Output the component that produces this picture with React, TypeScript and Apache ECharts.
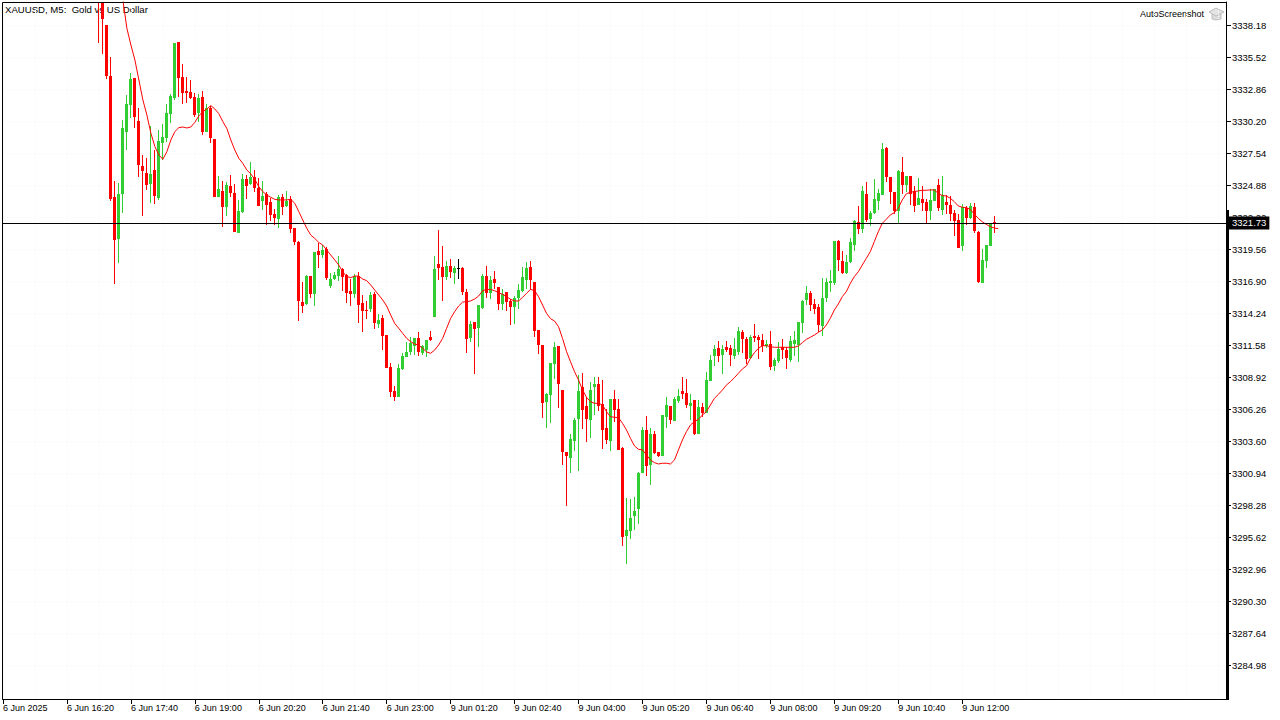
import React, { useEffect, useRef } from "react";
import * as echarts from "echarts";

const symbolTitle = "XAUUSD, M5:  Gold vs US Dollar";
const watermark = "AutoScreenshot";
const lastPrice = 3321.73;
const firstBarIndex = 24;
const firstMaIndex = 29;
const totalSlots = 307;
const xTickStep = 16;
const xTickLabels = ["6 Jun 2025","6 Jun 16:20","6 Jun 17:40","6 Jun 19:00","6 Jun 20:20","6 Jun 21:40","6 Jun 23:00","9 Jun 01:20","9 Jun 02:40","9 Jun 04:00","9 Jun 05:20","9 Jun 06:40","9 Jun 08:00","9 Jun 09:20","9 Jun 10:40","9 Jun 12:00"];
const yTickValues = [3338.18,3335.52,3332.86,3330.20,3327.54,3324.88,3322.22,3319.56,3316.90,3314.24,3311.58,3308.92,3306.26,3303.60,3300.94,3298.28,3295.62,3292.96,3290.30,3287.64,3284.98];

// rows: open, close, low, high
const barsEvening1 = [
[3345.00,3342.00,3336.69,3345.00],[3343.00,3338.71,3335.77,3343.50],[3338.18,3333.94,3333.72,3338.18],[3333.94,3323.72,3323.56,3335.52],
[3323.89,3320.31,3316.65,3325.22],[3320.39,3324.14,3318.40,3325.05],[3324.14,3329.62,3322.56,3330.29],[3329.29,3331.62,3327.79,3332.36],
[3331.53,3333.69,3330.45,3334.19],[3333.78,3330.54,3329.62,3333.78],[3330.20,3326.55,3325.55,3331.28],[3326.47,3326.05,3322.31,3327.38],
[3325.88,3324.89,3324.47,3327.13],[3324.97,3325.80,3323.39,3329.79],[3326.13,3323.97,3323.31,3327.79],[3323.80,3328.54,3323.64,3329.45],
[3328.38,3328.87,3326.96,3329.95],[3328.79,3330.87,3328.46,3331.62],[3330.79,3332.28,3330.01,3332.45],[3332.11,3336.69,3331.95,3336.69],
[3336.77,3333.78,3332.20,3336.77],[3333.86,3332.53,3331.62,3334.94],[3332.70,3332.53,3331.70,3333.86],[3332.61,3332.11,3332.03,3333.61],
[3332.20,3330.70,3330.54,3332.53],[3330.87,3332.11,3330.12,3332.45],[3332.20,3329.29,3329.04,3332.70],[3329.29,3331.28,3329.29,3331.62],
[3331.28,3328.79,3328.38,3331.45],[3328.71,3323.89,3323.89,3328.71],[3323.89,3324.55,3323.89,3325.63],[3324.39,3323.06,3321.39,3325.22],
[3323.06,3324.89,3322.31,3325.14],[3324.80,3324.22,3323.89,3325.72],[3324.22,3320.97,3320.97,3324.97],[3320.89,3322.72,3320.89,3323.64],
[3322.64,3325.38,3322.56,3325.80],[3325.38,3324.80,3323.72,3325.72],[3324.97,3325.55,3324.89,3326.79],[3325.55,3324.63,3324.30,3326.13],
[3324.63,3323.14,3323.14,3325.46],
];
const barsEvening2 = [
[3323.56,3323.97,3322.81,3325.22],[3324.14,3323.22,3321.55,3324.30],[3323.47,3322.39,3321.89,3323.80],[3322.47,3322.14,3321.55,3322.89],
[3322.06,3323.89,3321.31,3324.05],[3323.89,3323.06,3322.39,3324.14],[3323.14,3323.56,3323.06,3324.39],[3323.72,3321.22,3320.89,3323.97],
[3321.31,3320.14,3319.89,3321.31],[3320.14,3315.24,3313.57,3320.22],[3315.15,3314.82,3314.24,3316.82],[3314.99,3317.31,3314.90,3317.40],
[3317.31,3315.82,3315.49,3317.31],[3315.82,3319.31,3314.82,3319.31],[3319.39,3319.06,3317.98,3320.06],[3319.06,3319.47,3318.81,3319.89],
[3319.56,3317.15,3316.98,3319.72],[3316.48,3317.06,3316.31,3317.56],[3317.06,3317.40,3316.98,3317.65],[3317.31,3317.90,3316.90,3318.98],
[3317.90,3317.23,3316.07,3317.98],[3317.40,3315.90,3315.07,3317.48],[3316.07,3315.82,3314.82,3317.06],[3315.82,3317.31,3315.49,3317.48],
[3317.31,3314.90,3313.41,3317.65],[3315.07,3314.41,3312.66,3315.74],[3314.49,3314.41,3313.74,3315.24],[3314.57,3315.74,3314.32,3315.99],
[3315.82,3313.41,3312.91,3315.99],[3313.33,3313.66,3313.00,3314.16],[3313.82,3312.33,3311.16,3314.07],[3312.41,3309.67,3309.67,3312.41],
[3309.75,3307.67,3307.26,3310.08],[3307.76,3307.26,3306.93,3308.17],[3307.26,3309.67,3307.26,3310.00],[3309.59,3310.67,3309.50,3310.92],
[3310.58,3311.00,3310.58,3311.83],[3311.00,3311.75,3310.75,3312.25],[3311.50,3312.16,3310.75,3312.16],[3312.16,3311.00,3310.67,3312.66],
[3310.92,3311.50,3310.75,3311.58],[3311.16,3312.00,3310.58,3312.00],[3312.25,3312.00,3311.91,3312.74],
];
const barsAsia1 = [
[3313.91,3317.90,3313.91,3318.98],[3318.31,3317.98,3316.98,3321.15],[3318.06,3317.23,3315.24,3319.81],[3317.23,3318.15,3316.98,3318.56],
[3318.15,3317.65,3317.15,3318.73],[3317.56,3317.98,3316.65,3318.15],[3317.95,3317.95,3317.06,3318.73],[3317.98,3315.99,3315.74,3318.06],
[3315.99,3312.08,3310.92,3316.23],[3312.16,3313.33,3311.83,3313.57],[3313.49,3312.91,3309.17,3313.49],[3313.00,3314.90,3311.41,3314.90],
[3314.65,3317.31,3314.57,3317.48],[3317.31,3315.90,3315.49,3318.15],[3315.90,3316.98,3315.40,3317.31],[3317.06,3316.73,3316.23,3317.73],
[3316.40,3314.99,3314.49,3316.40],[3314.99,3315.82,3314.49,3316.23],[3315.99,3315.15,3314.41,3315.99],[3315.24,3314.74,3313.24,3315.40],
[3314.74,3315.49,3313.33,3315.65],[3315.49,3316.15,3314.57,3316.65],[3316.07,3317.23,3315.99,3318.06],[3316.98,3317.98,3316.23,3318.48],
[3318.06,3316.98,3316.15,3318.56],[3316.82,3312.74,3312.25,3316.82],[3312.83,3311.58,3310.83,3312.83],[3311.58,3306.76,3305.51,3311.58],
[3306.84,3307.51,3304.68,3307.59],[3307.43,3310.08,3305.10,3310.08],[3310.00,3311.41,3308.75,3311.83],[3311.50,3308.34,3306.34,3311.50],
[3307.84,3302.69,3301.61,3307.84],[3302.69,3302.36,3298.20,3302.69],[3302.20,3303.77,3300.94,3304.18],[3303.60,3305.35,3302.77,3305.51],
[3305.43,3307.76,3301.11,3309.09],[3308.09,3306.18,3304.60,3309.25],[3306.51,3305.43,3303.52,3307.26],[3305.35,3307.84,3303.85,3308.51],
[3308.09,3308.34,3305.76,3308.92],[3308.34,3306.51,3306.10,3308.92],[3306.68,3304.52,3302.94,3308.67],[3304.68,3303.69,3303.35,3306.26],
[3303.60,3307.09,3302.77,3307.09],[3307.09,3306.18,3305.18,3307.84],[3306.26,3302.86,3302.86,3307.09],
];
const barsAsia2 = [
[3303.02,3295.63,3294.88,3303.10],[3295.71,3296.21,3293.38,3298.87],[3296.12,3297.20,3295.46,3298.78],[3297.37,3297.79,3296.21,3298.95],
[3297.95,3300.94,3296.70,3301.03],[3300.94,3304.52,3300.94,3304.77],[3304.52,3301.53,3300.70,3305.68],[3301.61,3304.18,3299.93,3304.68],
[3304.18,3302.60,3302.52,3304.43],[3302.69,3302.36,3302.27,3302.69],[3302.36,3305.76,3302.36,3305.76],[3305.60,3306.59,3304.68,3307.26],
[3306.51,3305.35,3305.01,3306.51],[3305.26,3307.09,3305.26,3307.26],[3306.93,3307.34,3306.76,3307.92],[3307.76,3307.51,3307.09,3308.92],
[3307.59,3306.59,3306.34,3308.75],[3306.51,3306.76,3305.35,3307.51],[3307.01,3304.18,3304.10,3307.01],[3304.18,3306.43,3304.18,3307.01],
[3306.43,3305.93,3305.60,3306.76],[3305.93,3308.67,3305.93,3309.34],[3308.59,3310.33,3308.59,3310.75],[3310.67,3311.25,3309.84,3311.58],
[3311.33,3310.67,3310.17,3311.91],[3310.75,3311.25,3309.17,3311.58],[3311.41,3311.16,3311.00,3311.91],[3311.33,3310.75,3309.84,3311.58],
[3310.67,3311.25,3310.42,3312.16],[3311.00,3312.74,3310.75,3313.08],[3312.66,3312.08,3310.92,3312.83],[3312.08,3310.42,3310.00,3312.25],
[3310.50,3312.25,3310.42,3312.41],[3312.33,3312.16,3311.83,3313.33],[3312.25,3312.00,3310.42,3312.41],[3312.00,3311.50,3311.00,3312.49],
[3311.50,3311.66,3311.33,3312.00],[3311.66,3309.75,3309.50,3312.74],[3309.84,3310.33,3309.42,3310.50],[3310.25,3311.25,3310.08,3311.83],
[3311.41,3311.16,3310.42,3312.08],[3311.16,3310.50,3309.59,3311.41],[3310.33,3311.91,3310.17,3312.33],[3311.66,3312.00,3310.67,3312.74],
];
const barsEurope = [
[3311.58,3313.49,3310.17,3313.49],[3313.41,3315.24,3312.58,3315.32],[3315.32,3315.90,3314.90,3316.48],[3315.90,3314.90,3314.41,3316.07],
[3314.99,3314.57,3314.16,3315.40],[3314.74,3313.24,3312.66,3314.99],[3313.16,3315.49,3312.33,3317.15],[3315.49,3316.82,3315.15,3317.15],
[3316.73,3316.90,3315.99,3317.81],[3316.73,3320.22,3316.57,3320.22],[3320.22,3318.65,3317.73,3320.31],[3318.56,3317.56,3317.48,3319.39],
[3317.56,3318.48,3317.48,3319.06],[3318.48,3320.14,3318.40,3320.47],[3319.89,3321.89,3319.39,3321.97],[3321.81,3321.22,3320.80,3323.14],
[3321.22,3324.39,3320.89,3324.80],[3324.14,3321.97,3321.81,3325.14],[3322.06,3322.56,3321.48,3322.72],[3322.56,3323.72,3322.47,3325.38],
[3323.56,3324.22,3322.81,3324.55],[3324.05,3327.88,3324.05,3328.38],[3327.96,3325.55,3325.14,3328.04],[3325.55,3324.30,3323.31,3325.55],
[3324.30,3322.72,3322.47,3324.30],[3322.72,3326.05,3321.64,3326.13],[3325.97,3324.89,3324.14,3327.21],[3324.89,3325.63,3324.30,3325.63],
[3325.63,3324.14,3323.22,3325.63],[3324.39,3323.14,3322.64,3324.80],[3323.22,3323.80,3323.22,3325.46],[3323.72,3323.39,3322.72,3324.80],
[3323.47,3322.72,3321.72,3323.72],[3322.72,3323.64,3321.97,3324.55],[3323.56,3324.55,3323.56,3324.55],[3324.89,3322.97,3322.72,3325.38],
[3322.81,3324.05,3322.39,3325.63],[3323.47,3323.22,3322.47,3324.05],[3323.22,3322.47,3321.89,3323.97],[3322.56,3321.89,3320.64,3322.81],
[3321.97,3319.64,3319.64,3322.47],[3319.81,3323.06,3319.39,3323.31],[3322.97,3322.14,3321.55,3323.14],[3322.14,3323.14,3322.06,3323.39],
[3323.06,3321.06,3320.89,3323.39],[3320.97,3316.82,3316.73,3321.06],[3316.73,3318.65,3316.73,3319.56],[3318.56,3319.89,3317.98,3319.89],
[3319.81,3321.72,3319.81,3321.72],[3321.81,3321.73,3320.89,3322.31],
];

const maEvening = [3341.90,3340.26,3337.90,3336.52,3335.27,3333.61,3331.95,3330.70,3329.18,3328.07,3327.38,3327.02,3327.65,3328.62,3329.32,3329.65,3329.70,3329.62,3329.70,3330.09,3330.62,3330.98,3331.20,3331.48,3331.20,3330.81,3330.15,3329.59,3328.62,3327.79,3327.10,3326.68,3326.13,3325.80,3325.35,3324.74,3324.33,3324.05,3323.86,3323.69,3323.64,3323.64,3323.64,3323.69,3323.36,3322.67,3321.97,3321.28,3320.72,3320.44,3320.11,3319.89,3319.47,3319.06,3318.65,3318.23,3317.67,3317.26,3317.18,3317.31,3317.31,3317.06,3316.93,3316.57,3316.15,3315.74,3315.32,3314.82,3314.07,3313.38,3312.97,3312.55,3312.13,3311.86,3311.66,3311.58,3311.30,3311.00,3310.89];
const maAsia = [3311.16,3311.58,3312.13,3312.97,3313.80,3314.35,3314.82,3315.15,3315.18,3315.24,3315.40,3315.65,3316.09,3316.20,3316.20,3316.09,3315.93,3315.79,3315.60,3315.38,3315.24,3315.24,3315.54,3315.88,3316.20,3316.09,3315.60,3314.90,3314.21,3313.77,3313.57,3313.10,3312.13,3311.03,3310.19,3309.36,3308.67,3307.84,3307.23,3306.87,3306.73,3306.73,3306.59,3306.04,3305.62,3305.57,3305.54,3305.07,3304.52,3303.82,3303.19,3302.91,3302.86,3302.44,3302.02,3301.80,3301.69,3301.75,3301.75,3301.69,3302.02,3302.86,3303.69,3304.38,3304.93,3305.21,3305.40,3305.76,3306.04,3306.59,3307.15,3307.48,3307.84,3308.25,3308.53,3308.86,3309.23,3309.59,3309.84,3310.47,3310.94,3311.30,3311.52,3311.52,3311.44,3311.39,3311.39,3311.39,3311.39,3311.39,3311.39];
const maEurope = [3311.50,3311.77,3312.05,3312.22,3312.41,3312.63,3312.83,3313.24,3313.80,3314.49,3314.99,3315.60,3316.01,3316.70,3317.26,3317.67,3318.23,3318.78,3319.34,3320.17,3321.00,3321.69,3322.03,3322.39,3322.58,3322.95,3323.64,3324.14,3324.28,3324.33,3324.39,3324.44,3324.44,3324.47,3324.47,3324.19,3324.00,3323.97,3323.78,3323.50,3323.14,3323.03,3323.00,3322.86,3322.47,3322.11,3321.83,3321.61,3321.42,3321.31,3321.25];

const UP = "#32cd32";
const DOWN = "#ff0000";
const DOJI = "#000000";
const FONT = "Liberation Sans";

export default function App() {
  const ref = useRef<HTMLDivElement>(null);
  useEffect(() => {
    document.body.style.margin = "0";
    document.body.style.background = "#fff";
    const chart = echarts.init(ref.current!, null, { renderer: "svg" });

    const categories = Array.from({ length: totalSlots }, (_, i) =>
      i % xTickStep === 0 && xTickLabels[i / xTickStep] ? xTickLabels[i / xTickStep] : ""
    );
    const allBars = [...barsEvening1, ...barsEvening2, ...barsAsia1, ...barsAsia2, ...barsEurope];
    const candleData = allBars.map((b, i) => [firstBarIndex + i, ...b]);
    const maData: any[] = [
      ...Array.from({ length: firstMaIndex }, () => null),
      ...maEvening, ...maAsia, ...maEurope,
    ];

    const renderCandle = (_: any, api: any) => {
      const k = api.value(0);
      const o = api.value(1);
      const c = api.value(2);
      const cx = Math.floor(api.coord([k, o])[0]);
      const yO = api.coord([k, o])[1];
      const yC = api.coord([k, c])[1];
      const yL = api.coord([k, api.value(3)])[1];
      const yH = api.coord([k, api.value(4)])[1];
      const color = o === c ? DOJI : c > o ? UP : DOWN;
      const top = Math.round(Math.min(yO, yC));
      const bottom = Math.round(Math.max(yO, yC));
      const wickTop = Math.round(yH);
      const wickBottom = Math.round(yL);
      return {
        type: "group",
        children: [
          { type: "rect", shape: { x: cx, y: wickTop, width: 1, height: Math.max(1, wickBottom - wickTop) }, style: { fill: color, stroke: "none" } },
          { type: "rect", shape: { x: cx - 1, y: top, width: 3, height: Math.max(1, bottom - top) }, style: { fill: color, stroke: "none" } },
        ],
      };
    };

    chart.setOption({
      animation: false,
      backgroundColor: "#fff",
      grid: { left: 2, top: 2, width: 1224, height: 697, show: false, containLabel: false },
      xAxis: {
        type: "category",
        data: categories,
        boundaryGap: false,
        axisLine: { show: true, onZero: false, lineStyle: { color: "#000", width: 1 } },
        axisTick: { show: true, length: 5, lineStyle: { color: "#000" }, interval: (_: number, v: string) => v !== "" },
        axisLabel: {
          show: true, color: "#000", fontFamily: FONT, fontSize: 9, align: "left", margin: 4,
          interval: (_: number, v: string) => v !== "", hideOverlap: false,
        },
        splitLine: { show: true, interval: (i: number) => i % 8 === 0, lineStyle: { color: "#f8f8f8", type: "dotted", width: 1 } },
      },
      yAxis: {
        type: "value",
        position: "right",
        min: 3282.1538,
        max: 3340.0919,
        scale: true,
        axisLine: { show: true, lineStyle: { color: "#000", width: 1 } },
        axisTick: { show: true, length: 5, lineStyle: { color: "#000" }, customValues: yTickValues },
        axisLabel: { show: true, color: "#000", fontFamily: FONT, fontSize: 9.5, margin: 6, customValues: yTickValues, formatter: (v: number) => v.toFixed(2), showMinLabel: true, showMaxLabel: true },
        splitLine: { show: true, lineStyle: { color: "#f8f8f8", type: "dotted", width: 1 } },
      },
      graphic: [
        { type: "text", z: 0, left: 5, top: 4, style: { text: symbolTitle, fill: "#000", font: `9.6px ${FONT}` } },
        { type: "text", z: 0, left: 1140, top: 9, style: { text: watermark, fill: "#000", font: `9px ${FONT}` } },
        { type: "polygon", z: 0, shape: { points: [[1212, 14], [1212, 19], [1216, 20], [1221, 19], [1221, 14]] }, style: { fill: "#dcdcdc", stroke: "#c0c0c0", lineWidth: 1 } },
        { type: "polygon", z: 0, shape: { points: [[1209, 12], [1216, 8], [1224, 12], [1216, 16]] }, style: { fill: "#e4e4e4", stroke: "#bdbdbd", lineWidth: 1 } },
        { type: "rect", z: 6, shape: { x: 2.5, y: 2.5, width: 1224, height: 697 }, style: { fill: "none", stroke: "#000", lineWidth: 1 } },
        { type: "rect", z: 6, shape: { x: 1226, y: 210, width: 3, height: 490 }, style: { fill: "#000" } },
      ],
      series: [
        {
          type: "custom",
          data: candleData,
          renderItem: renderCandle,
          clip: true,
          z: 3,
          encode: { x: 0, y: [1, 2, 3, 4] },
          silent: true,
        },
        {
          type: "line",
          data: maData,
          showSymbol: false,
          symbol: "none",
          clip: true,
          z: 4,
          connectNulls: false,
          lineStyle: { color: DOWN, width: 1 },
          markLine: {
            silent: true,
            symbol: "none",
            animation: false,
            lineStyle: { color: "#000", width: 1, type: "solid" },
            label: {
              show: true, position: "end", formatter: lastPrice.toFixed(2), color: "#fff", backgroundColor: "#000",
              fontFamily: FONT, fontSize: 9.5, padding: [2, 3, 1, 3], distance: 3,
            },
            data: [{ yAxis: lastPrice }],
          },
        },
      ],
    });
    return () => chart.dispose();
  }, []);
  return <div ref={ref} style={{ width: 1280, height: 720 }} />;
}
